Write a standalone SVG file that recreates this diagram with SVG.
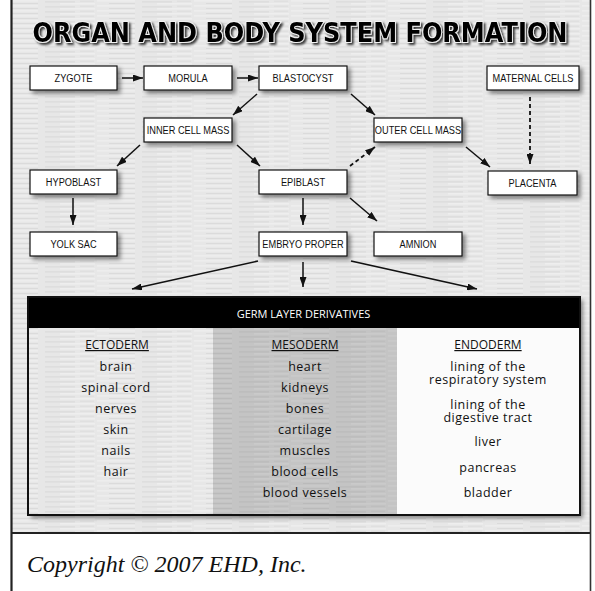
<svg xmlns="http://www.w3.org/2000/svg" width="595" height="591" viewBox="0 0 595 591">
<defs>
  <pattern id="tex" width="97" height="5" patternUnits="userSpaceOnUse">
    <rect width="97" height="5" fill="#e7e7e7"/>
    <rect x="0" y="0.5" width="38" height="0.8" fill="#f4f4f4"/>
    <rect x="45" y="1.5" width="30" height="0.8" fill="#d6d6d6"/>
    <rect x="12" y="3" width="26" height="0.8" fill="#d9d9d9"/>
    <rect x="60" y="3.5" width="35" height="0.8" fill="#f5f5f5"/>
    <rect x="80" y="0.8" width="14" height="0.7" fill="#dadada"/>
  </pattern>
  <filter id="sh" x="-20%" y="-30%" width="150%" height="180%">
    <feDropShadow dx="3" dy="3" stdDeviation="2.2" flood-color="#000" flood-opacity="0.45"/>
  </filter>
  <filter id="tsh" x="-5%" y="-40%" width="110%" height="200%">
    <feDropShadow dx="2" dy="2" stdDeviation="1" flood-color="#000" flood-opacity="0.75"/>
  </filter>
  <marker id="ah" viewBox="0 0 10 7" refX="10" refY="3.5" markerWidth="10" markerHeight="7" markerUnits="userSpaceOnUse" orient="auto">
    <path d="M0,0 L10,3.5 L0,7 z" fill="#111"/>
  </marker>
  <style>
    .box { fill: #ffffff; stroke: #111; stroke-width: 1.2; filter: url(#sh); }
    .lbl { font-family: "Liberation Sans", Arial, sans-serif; font-size: 11px; fill: #111; text-anchor: middle; }
    .arr { stroke: #111; stroke-width: 1.5; fill: none; marker-end: url(#ah); }
    .dash { stroke-dasharray: 4 3; stroke-width: 1.8; }
    .item { font-family: "Open Sans", "Noto Sans", sans-serif; font-size: 12.5px; letter-spacing: 0.5px; fill: #111; text-anchor: middle; }
    .head { font-family: "Open Sans", "Noto Sans", sans-serif; font-size: 12px; fill: #111; text-anchor: middle; text-decoration: underline; }
  </style>
</defs>

<!-- background -->
<rect x="0" y="0" width="595" height="591" fill="#ffffff"/>
<rect x="11" y="0" width="580" height="533" fill="url(#tex)"/>
<rect x="11" y="533" width="580" height="58" fill="#ffffff"/>
<line x1="11" y1="533" x2="591" y2="533" stroke="#222" stroke-width="2"/>
<line x1="11.5" y1="0" x2="11.5" y2="591" stroke="#222" stroke-width="2.2"/>
<line x1="590.5" y1="0" x2="590.5" y2="591" stroke="#333" stroke-width="1.6"/>

<!-- title -->
<text id="title" x="300" y="42" font-family="DejaVu Sans, Verdana, sans-serif" font-weight="bold" font-size="26" text-anchor="middle" textLength="535" lengthAdjust="spacingAndGlyphs" fill="#000" stroke="#f2f2f2" stroke-width="2" paint-order="stroke" filter="url(#tsh)">ORGAN AND BODY SYSTEM FORMATION</text>

<!-- connectors -->
<g id="connectors">
  <line class="arr" x1="122" y1="78" x2="143" y2="78"/>
  <line class="arr" x1="237" y1="78" x2="258" y2="78"/>
  <line class="arr" x1="257" y1="94" x2="233" y2="115"/>
  <line class="arr" x1="351" y1="94" x2="375" y2="115"/>
  <line class="arr" x1="140" y1="145" x2="117" y2="166"/>
  <line class="arr" x1="237" y1="145" x2="260" y2="166"/>
  <line class="arr dash" x1="350" y1="166" x2="375" y2="147"/>
  <line class="arr" x1="466" y1="147" x2="490" y2="167"/>
  <line class="arr dash" x1="530" y1="97" x2="530" y2="164"/>
  <line class="arr" x1="73" y1="198" x2="73" y2="225"/>
  <line class="arr" x1="303" y1="198" x2="303" y2="225"/>
  <line class="arr" x1="350" y1="198" x2="377" y2="221"/>
  <line class="arr" x1="258" y1="261" x2="132" y2="289"/>
  <line class="arr" x1="303" y1="262" x2="303" y2="287"/>
  <line class="arr" x1="351" y1="261" x2="477" y2="289"/>
</g>

<!-- nodes -->
<g id="zygote"><rect class="box" x="30" y="66" width="87" height="24"/><text class="lbl" transform="translate(73.5,82) scale(0.84,1)">ZYGOTE</text></g>
<g id="morula"><rect class="box" x="144" y="66" width="88" height="24"/><text class="lbl" transform="translate(188,82) scale(0.84,1)">MORULA</text></g>
<g id="blastocyst"><rect class="box" x="259" y="66" width="88" height="24"/><text class="lbl" transform="translate(303,82) scale(0.84,1)">BLASTOCYST</text></g>
<g id="maternal-cells"><rect class="box" x="487" y="66" width="92" height="24"/><text class="lbl" transform="translate(533,82) scale(0.84,1)">MATERNAL CELLS</text></g>
<g id="inner-cell-mass"><rect class="box" x="144" y="118" width="88" height="24"/><text class="lbl" transform="translate(188,134) scale(0.84,1)">INNER CELL MASS</text></g>
<g id="outer-cell-mass"><rect class="box" x="374" y="118" width="88" height="24"/><text class="lbl" transform="translate(418,134) scale(0.84,1)">OUTER CELL MASS</text></g>
<g id="hypoblast"><rect class="box" x="30" y="170" width="87" height="24"/><text class="lbl" transform="translate(73.5,186) scale(0.84,1)">HYPOBLAST</text></g>
<g id="epiblast"><rect class="box" x="259" y="170" width="88" height="24"/><text class="lbl" transform="translate(303,186) scale(0.84,1)">EPIBLAST</text></g>
<g id="placenta"><rect class="box" x="488" y="171" width="89" height="24"/><text class="lbl" transform="translate(532.5,187) scale(0.84,1)">PLACENTA</text></g>
<g id="yolk-sac"><rect class="box" x="30" y="232" width="87" height="24"/><text class="lbl" transform="translate(73.5,248) scale(0.84,1)">YOLK SAC</text></g>
<g id="embryo-proper"><rect class="box" x="259" y="232" width="88" height="24"/><text class="lbl" transform="translate(303,248) scale(0.84,1)">EMBRYO PROPER</text></g>
<g id="amnion"><rect class="box" x="374" y="232" width="88" height="24"/><text class="lbl" transform="translate(418,248) scale(0.84,1)">AMNION</text></g>

<!-- table -->
<g id="germ-layer-table">
  <rect x="28" y="297" width="552" height="218" fill="#e3e3e3" filter="url(#sh)"/>
  <rect x="28" y="328" width="185" height="187" fill="url(#tex)"/>
  <rect x="213" y="328" width="184" height="187" fill="url(#tex)"/>
  <rect x="213" y="328" width="184" height="187" fill="#000" opacity="0.15"/>
  <rect x="397" y="328" width="183" height="187" fill="#fbfbfb"/>
  <rect x="28" y="297" width="552" height="31" fill="#000"/>
  <rect x="28" y="297" width="552" height="218" fill="none" stroke="#111" stroke-width="2"/>
  <text x="303.5" y="318" font-family="Open Sans, Noto Sans, sans-serif" font-size="11" fill="#fff" text-anchor="middle">GERM LAYER DERIVATIVES</text>

  <text class="head" x="117" y="349">ECTODERM</text>
  <text class="item" x="116" y="371">brain</text>
  <text class="item" x="116" y="392">spinal cord</text>
  <text class="item" x="116" y="413">nerves</text>
  <text class="item" x="116" y="434">skin</text>
  <text class="item" x="116" y="455">nails</text>
  <text class="item" x="116" y="476">hair</text>

  <text class="head" x="305" y="349">MESODERM</text>
  <text class="item" x="305" y="371">heart</text>
  <text class="item" x="305" y="392">kidneys</text>
  <text class="item" x="305" y="413">bones</text>
  <text class="item" x="305" y="434">cartilage</text>
  <text class="item" x="305" y="455">muscles</text>
  <text class="item" x="305" y="476">blood cells</text>
  <text class="item" x="305" y="497">blood vessels</text>

  <text class="head" x="488" y="349">ENDODERM</text>
  <text class="item" x="488" y="371">lining of the<tspan x="488" dy="13">respiratory system</tspan></text>
  <text class="item" x="488" y="409">lining of the<tspan x="488" dy="13">digestive tract</tspan></text>
  <text class="item" x="488" y="446">liver</text>
  <text class="item" x="488" y="472">pancreas</text>
  <text class="item" x="488" y="497">bladder</text>
</g>

<text x="27" y="572" font-family="Liberation Serif, Times New Roman, serif" font-style="italic" font-size="24" fill="#111">Copyright © 2007 EHD, Inc.</text>
</svg>
